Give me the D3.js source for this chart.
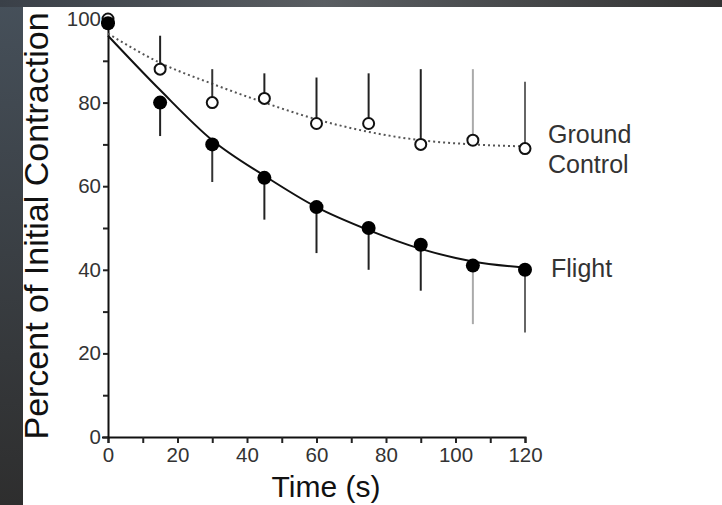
<!DOCTYPE html>
<html>
<head>
<meta charset="utf-8">
<script src="https://cdn.jsdelivr.net/npm/d3@7"></script>
<style>
  html, body { margin: 0; padding: 0; background: #2f2f2f; }
  svg { display: block; }
  text { font-family: "Liberation Sans", Arial, Helvetica, sans-serif; }
</style>
</head>
<body>
<svg class="chart" width="722" height="505"></svg>
<script>
// data
const times = [0, 15, 30, 45, 60, 75, 90, 105, 120];

const flightMean = [99, 80, 70, 62, 55, 50, 46, 41, 40];
const flightLow = [99, 72, 61, 52, 44, 40, 35, 27, 25];

const groundMean = [100, 88, 80, 81, 75, 75, 70, 71, 69];
const groundHigh = [100, 96, 88, 87, 86, 87, 88, 88, 85];

// fitted curves as drawn
const flightFit = [96, 83, 71, 62.5, 55, 49.5, 45, 42, 40.5];
const groundFit = [96.5, 89.5, 84.5, 80, 76, 73, 71, 70, 69.5];

// error bar shading (some bars are lighter in the original)
const barShade = ["#222", "#222", "#333", "#222", "#222", "#222", "#222", "#aaa", "#666"];

const xTicks = [0, 20, 40, 60, 80, 100, 120];
const yTicks = [0, 20, 40, 60, 80, 100];

const svg = d3.select(".chart");
const width = 722;
const height = 505;

// slide background
const defs = svg.append("defs");
const grad = defs.append("linearGradient")
  .attr("id", "bg")
  .attr("x1", 0).attr("y1", 0).attr("x2", 0).attr("y2", 1);
grad.append("stop").attr("offset", "0%").attr("stop-color", "#46505a");
grad.append("stop").attr("offset", "100%").attr("stop-color", "#2e2e2e");
svg.append("rect").attr("width", width).attr("height", height).attr("fill", "url(#bg)");

const topGrad = defs.append("linearGradient").attr("id", "topband");
topGrad.append("stop").attr("offset", "0%").attr("stop-color", "#3a4048");
topGrad.append("stop").attr("offset", "45%").attr("stop-color", "#5a5e62");
topGrad.append("stop").attr("offset", "100%").attr("stop-color", "#333");
svg.append("rect").attr("width", width).attr("height", 7).attr("fill", "url(#topband)");

// white panel
svg.append("rect")
  .attr("x", 23).attr("y", 7)
  .attr("width", width - 23).attr("height", height - 7)
  .attr("fill", "white");

const x = d3.scaleLinear().domain([0, 120]).range([108, 525]);
const y = d3.scaleLinear().domain([0, 100]).range([437, 19]);

// axes
const xAxis = svg.append("g")
  .attr("transform", `translate(0, ${y(0)})`)
  .call(d3.axisBottom(x).tickValues(d3.range(0, 121, 10)).tickSize(6).tickFormat(d => xTicks.includes(d) ? d : ""));
const yAxis = svg.append("g")
  .attr("transform", `translate(${x(0)}, 0)`)
  .call(d3.axisLeft(y).tickValues(d3.range(0, 101, 10)).tickSize(6).tickFormat(d => yTicks.includes(d) ? d : ""));

[xAxis, yAxis].forEach(g => {
  g.select(".domain").attr("stroke", "#111").attr("stroke-width", 2);
  g.selectAll(".tick line").attr("stroke", "#222").attr("stroke-width", 2);
  g.selectAll(".tick text")
    .attr("fill", "#333")
    .style("font-size", "20.5px")
    .style("font-family", "'Liberation Sans', Arial, sans-serif");
});
yAxis.selectAll(".tick line").attr("x2", -5);
yAxis.selectAll(".tick text").attr("x", -7);
xAxis.selectAll(".tick text").attr("y", 10);

// fitted curves
const fitLine = d3.line()
  .x((d, i) => x(times[i]))
  .y(d => y(d))
  .curve(d3.curveMonotoneX);

svg.append("path")
  .attr("d", fitLine(groundFit))
  .attr("fill", "none")
  .attr("stroke", "#555")
  .attr("stroke-width", 2)
  .attr("stroke-dasharray", "2,3");

svg.append("path")
  .attr("d", fitLine(flightFit))
  .attr("fill", "none")
  .attr("stroke", "#111")
  .attr("stroke-width", 2);

// error bars (one-sided)
svg.append("g").selectAll("line")
  .data(times.slice(1))
  .join("line")
  .attr("x1", d => x(d)).attr("x2", d => x(d))
  .attr("y1", (d, i) => y(groundMean[i + 1]))
  .attr("y2", (d, i) => y(groundHigh[i + 1]))
  .attr("stroke", (d, i) => barShade[i + 1])
  .attr("stroke-width", 2);

svg.append("g").selectAll("line")
  .data(times.slice(1))
  .join("line")
  .attr("x1", d => x(d)).attr("x2", d => x(d))
  .attr("y1", (d, i) => y(flightMean[i + 1]))
  .attr("y2", (d, i) => y(flightLow[i + 1]))
  .attr("stroke", (d, i) => barShade[i + 1])
  .attr("stroke-width", 2);

// markers
svg.append("g").selectAll("circle")
  .data(times)
  .join("circle")
  .attr("cx", d => x(d))
  .attr("cy", (d, i) => y(groundMean[i]))
  .attr("r", 5.5)
  .attr("fill", "white")
  .attr("stroke", "#111")
  .attr("stroke-width", 2);

svg.append("g").selectAll("circle")
  .data(times)
  .join("circle")
  .attr("cx", d => x(d))
  .attr("cy", (d, i) => y(flightMean[i]))
  .attr("r", 7)
  .attr("fill", "#000");

// series labels
svg.append("text").attr("x", 548).attr("y", 143).text("Ground")
  .attr("fill", "#333").style("font-size", "25px");
svg.append("text").attr("x", 548).attr("y", 173).text("Control")
  .attr("fill", "#333").style("font-size", "25px");
svg.append("text").attr("x", 551).attr("y", 277).text("Flight")
  .attr("fill", "#333").style("font-size", "25px");

// axis titles
svg.append("text")
  .attr("x", 326).attr("y", 497)
  .attr("text-anchor", "middle")
  .attr("fill", "#111")
  .style("font-size", "30px")
  .text("Time (s)");

svg.append("text")
  .attr("transform", "translate(48, 226) rotate(-90)")
  .attr("text-anchor", "middle")
  .attr("fill", "#111")
  .style("font-size", "34px")
  .text("Percent of Initial Contraction");
</script>
</body>
</html>
